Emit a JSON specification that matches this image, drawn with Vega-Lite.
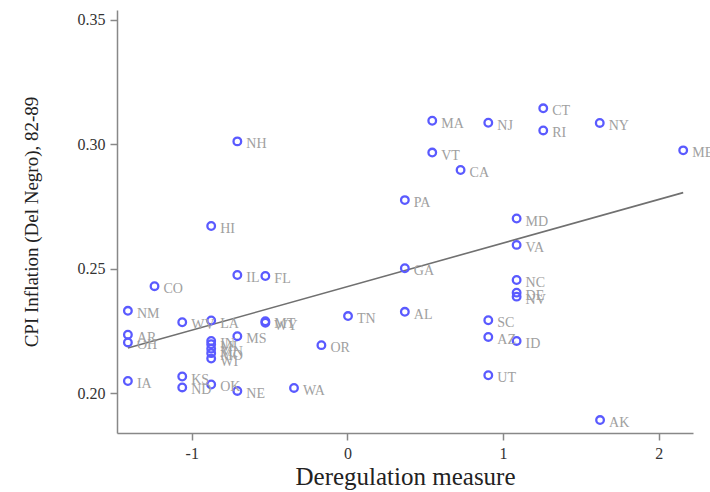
{
  "$schema": "https://vega.github.io/schema/vega-lite/v6.json",
  "autosize": "none",
  "width": 576,
  "height": 423,
  "padding": {"left": 117, "top": 10, "right": 17, "bottom": 59},
  "background": "white",
  "data": {"values": [
    {"state": "NH", "dereg": -0.707, "cpi": 0.3012},
    {"state": "HI", "dereg": -0.875, "cpi": 0.2672},
    {"state": "IL", "dereg": -0.707, "cpi": 0.2475},
    {"state": "FL", "dereg": -0.527, "cpi": 0.2471},
    {"state": "CO", "dereg": -1.239, "cpi": 0.2430},
    {"state": "NM", "dereg": -1.41, "cpi": 0.2331},
    {"state": "WV", "dereg": -1.061, "cpi": 0.2285},
    {"state": "LA", "dereg": -0.875, "cpi": 0.2292},
    {"state": "MT", "dereg": -0.527, "cpi": 0.2289},
    {"state": "WY", "dereg": -0.527, "cpi": 0.2283},
    {"state": "MS", "dereg": -0.707, "cpi": 0.2229},
    {"state": "AR", "dereg": -1.41, "cpi": 0.2235},
    {"state": "OH", "dereg": -1.41, "cpi": 0.2204},
    {"state": "IN", "dereg": -0.875, "cpi": 0.2210},
    {"state": "MI", "dereg": -0.875, "cpi": 0.2197},
    {"state": "MN", "dereg": -0.875, "cpi": 0.2179},
    {"state": "MO", "dereg": -0.875, "cpi": 0.2161},
    {"state": "WI", "dereg": -0.875, "cpi": 0.2139},
    {"state": "OR", "dereg": -0.167, "cpi": 0.2193},
    {"state": "IA", "dereg": -1.41, "cpi": 0.2049},
    {"state": "KS", "dereg": -1.061, "cpi": 0.2067},
    {"state": "ND", "dereg": -1.061, "cpi": 0.2023},
    {"state": "OK", "dereg": -0.875, "cpi": 0.2035},
    {"state": "NE", "dereg": -0.707, "cpi": 0.2009},
    {"state": "WA", "dereg": -0.343, "cpi": 0.2021},
    {"state": "TN", "dereg": 0.004, "cpi": 0.2310},
    {"state": "MA", "dereg": 0.545, "cpi": 0.3095},
    {"state": "NJ", "dereg": 0.905, "cpi": 0.3087},
    {"state": "CT", "dereg": 1.258, "cpi": 0.3145},
    {"state": "RI", "dereg": 1.258, "cpi": 0.3056},
    {"state": "NY", "dereg": 1.621, "cpi": 0.3086},
    {"state": "ME", "dereg": 2.157, "cpi": 0.2976},
    {"state": "VT", "dereg": 0.545, "cpi": 0.2967},
    {"state": "CA", "dereg": 0.727, "cpi": 0.2897},
    {"state": "PA", "dereg": 0.369, "cpi": 0.2776},
    {"state": "MD", "dereg": 1.087, "cpi": 0.2702},
    {"state": "VA", "dereg": 1.087, "cpi": 0.2596},
    {"state": "GA", "dereg": 0.369, "cpi": 0.2502},
    {"state": "NC", "dereg": 1.087, "cpi": 0.2455},
    {"state": "DE", "dereg": 1.087, "cpi": 0.2404},
    {"state": "NV", "dereg": 1.087, "cpi": 0.2388},
    {"state": "AL", "dereg": 0.369, "cpi": 0.2327},
    {"state": "SC", "dereg": 0.905, "cpi": 0.2293},
    {"state": "AZ", "dereg": 0.905, "cpi": 0.2226},
    {"state": "ID", "dereg": 1.087, "cpi": 0.2210},
    {"state": "UT", "dereg": 0.905, "cpi": 0.2072},
    {"state": "AK", "dereg": 1.623, "cpi": 0.1892}
  ]},
  "encoding": {
    "x": {"field": "dereg", "type": "quantitative",
      "scale": {"domain": [-1.48, 2.22], "nice": false, "zero": false},
      "axis": {"title": "Deregulation measure", "values": [-1, 0, 1, 2], "format": "d",
        "labelExpr": "datum.value < 0 ? '-' + abs(datum.value) : datum.label"}},
    "y": {"field": "cpi", "type": "quantitative",
      "scale": {"domain": [0.184, 0.354], "nice": false, "zero": false},
      "axis": {"title": "CPI Inflation (Del Negro), 82-89", "values": [0.20, 0.25, 0.30, 0.35], "format": ".2f"}}
  },
  "layer": [
    {
      "transform": [{"regression": "cpi", "on": "dereg"}],
      "mark": {"type": "line", "color": "#707070", "strokeWidth": 1.6}
    },
    {
      "mark": {"type": "point", "shape": "circle", "filled": false, "color": "#5a5aff", "strokeWidth": 2.3, "size": 58, "opacity": 1}
    },
    {
      "mark": {"type": "text", "align": "left", "baseline": "middle", "dx": 9, "dy": 3, "font": "Liberation Serif", "fontSize": 14, "color": "#a0a0a0"},
      "encoding": {"text": {"field": "state"}}
    }
  ],
  "config": {
    "view": {"stroke": null},
    "axis": {
      "grid": false,
      "domainColor": "#888888",
      "domainWidth": 1.5,
      "tickColor": "#888888",
      "tickWidth": 1.5,
      "tickSize": 7,
      "labelFont": "Liberation Serif",
      "labelFontSize": 16,
      "labelColor": "#333333",
      "titleFont": "Liberation Serif",
      "titleFontWeight": "normal",
      "titleColor": "#222222",
      "labelPadding": 5
    },
    "axisX": {"titleFontSize": 25, "titlePadding": 3},
    "axisY": {"titleFontSize": 19, "titlePadding": 36}
  }
}
